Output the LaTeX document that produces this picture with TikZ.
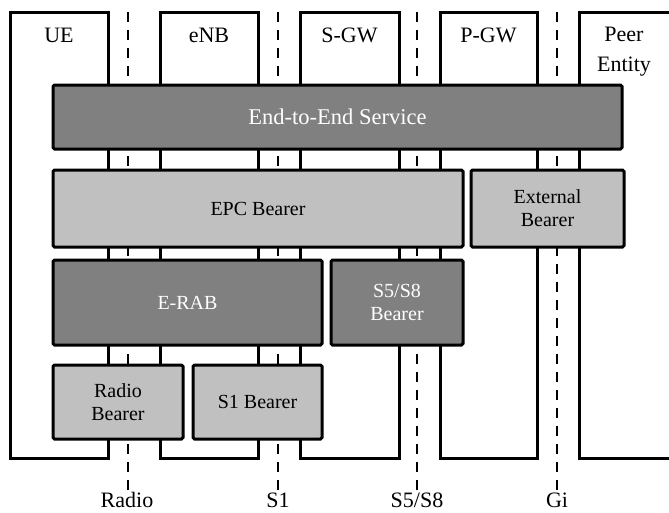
\documentclass[tikz,border=0pt]{standalone}
\usepackage{fontspec}
\setmainfont{Liberation Serif}
\usepackage{tikz}
\usetikzlibrary{positioning}
\definecolor{boxdark}{RGB}{128,128,128}
\definecolor{boxlight}{RGB}{192,192,192}

\begin{document}
\begin{tikzpicture}[x=1pt,y=-1pt]
\tikzset{entity/.style={draw,line width=3pt,inner sep=0pt},
  bearer/.style={draw,line width=3pt,rounded corners=1.5pt,inner sep=2pt,align=center,font=\fontsize{20}{23}\selectfont},
  dark/.style={bearer,fill=boxdark,text=white},
  light/.style={bearer,fill=boxlight,text=black},
  iface/.style={line width=2.5pt,dash pattern=on 10pt off 8pt},
  ename/.style={font=\fontsize{22}{30}\selectfont,align=center,inner sep=1pt}}

\useasboundingbox (0,0) rectangle (669,512);
\clip (0,0) rectangle (669,512);

% interfaces
\coordinate (t1) at (128,12);
\coordinate (t2) at (278,12);
\coordinate (t3) at (417,12);
\coordinate (t4) at (557,12);
\node (radio) at (127,500) [ename] {Radio};
\node (s1) at (278,500) [ename] {S1};
\node (s5) at (417,500) [ename] {S5/S8};
\node (gi) at (557,500) [ename] {Gi};
\draw[iface] (t1) -- (radio.north -| t1);
\draw[iface] (t2) -- (s1);
\draw[iface] (t3) -- (s5);
\draw[iface] (t4) -- (gi);

% entidades
\node (ue) at (59,235) [entity,minimum width=98pt,minimum height=446pt] {};
\node (enb) at (209,235) [entity,minimum width=98pt,minimum height=446pt] {};
\node (sgw) at (349.5,235) [entity,minimum width=99pt,minimum height=446pt] {};
\node (pgw) at (488.5,235) [entity,minimum width=97pt,minimum height=446pt] {};
\node (peer) at (639.5,235) [entity,minimum width=121pt,minimum height=446pt] {};
\node (uelab) at (59,35) [ename] {UE};
\node (enblab) at (209,35) [ename] {eNB};
\node (sgwlab) at (349.5,35) [ename] {S-GW};
\node (pgwlab) at (488.5,35) [ename] {P-GW};
\node (peerlab) at (624,52) [ename] {Peer\\Entity};

% bearers
\node (e2e) at (337.5,117) [dark,minimum width=569pt,minimum height=64pt,font=\fontsize{22.5}{26}\selectfont] {End-to-End Service};
\node (epc) at (258,208.5) [light,minimum width=410pt,minimum height=77pt] {EPC Bearer};
\node (ext) at (547.5,208.5) [light,minimum width=153pt,minimum height=77pt] {External\\Bearer};
\node (erab) at (187.5,302.5) [dark,minimum width=269pt,minimum height=85pt] {E-RAB};
\node (s5b) at (397,302.5) [dark,minimum width=132pt,minimum height=85pt] {S5/S8\\Bearer};
\node (rb) at (118,402) [light,minimum width=130pt,minimum height=74pt] {Radio\\Bearer};
\node (s1b) at (257.5,402) [light,minimum width=129pt,minimum height=74pt] {S1 Bearer};

\end{tikzpicture}
\end{document}
